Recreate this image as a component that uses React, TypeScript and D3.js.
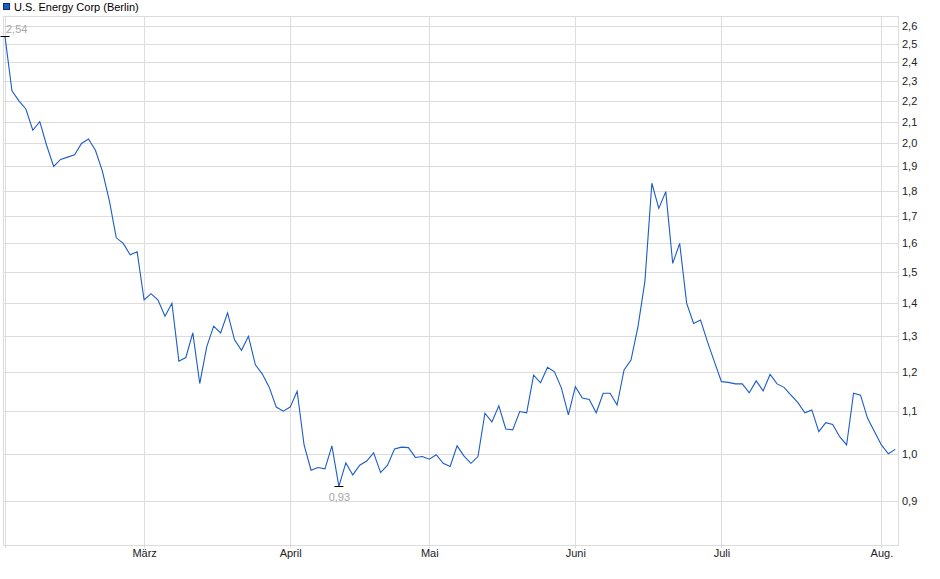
import { useRef, useEffect } from "react";
import * as d3 from "d3";

// closing prices, one per trading day
const prices = [
  2.54, 2.25, 2.2, 2.16, 2.06, 2.1, 1.99, 1.9, 1.93, 1.94, 1.95, 2.0, 2.02, 1.97, 1.88, 1.76, 1.62, 1.6, 1.56, 1.57,
  1.41, 1.43, 1.41, 1.36, 1.4, 1.23, 1.24, 1.31, 1.17, 1.27, 1.33, 1.31, 1.37, 1.29, 1.26, 1.3, 1.22, 1.195, 1.16, 1.11,
  1.1, 1.11, 1.15, 1.02, 0.964, 0.97, 0.967, 1.018, 0.93, 0.98, 0.954, 0.975, 0.984, 1.002, 0.959, 0.975, 1.011, 1.015, 1.014, 0.992,
  0.994, 0.988, 0.998, 0.979, 0.972, 1.018, 0.995, 0.979, 0.994, 1.095, 1.074, 1.113, 1.057, 1.055, 1.099, 1.096, 1.192, 1.172, 1.213, 1.201,
  1.158, 1.091, 1.162, 1.133, 1.129, 1.096, 1.145, 1.145, 1.115, 1.206, 1.233, 1.328, 1.47, 1.83, 1.73, 1.796, 1.53, 1.6, 1.4, 1.338,
  1.348, 1.284, 1.228, 1.175, 1.173, 1.169, 1.169, 1.146, 1.177, 1.151, 1.194, 1.169, 1.16, 1.14, 1.121, 1.096, 1.103, 1.051, 1.072, 1.068,
  1.039, 1.02, 1.145, 1.14, 1.083, 1.051, 1.02, 1.0, 1.01,
];

const monthLabels = ["März", "April", "Mai", "Juni", "Juli", "Aug."];
const monthIndex = [20, 41, 61, 82, 103, 126];
const yTicks = [0.9, 1.0, 1.1, 1.2, 1.3, 1.4, 1.5, 1.6, 1.7, 1.8, 1.9, 2.0, 2.1, 2.2, 2.3, 2.4, 2.5, 2.6];
const seriesName = "U.S. Energy Corp (Berlin)";

const W = 940;
const H = 579;
const FONT = "'Liberation Sans', Arial, sans-serif";
const GRID = "#dcdcdc";
const BLUE = "#1c5cc6";

const de = d3.formatLocale({ decimal: ",", thousands: ".", grouping: [3], currency: ["", " €"] });
const fmt1 = de.format(".1f");
const fmt2 = de.format(".2f");

export default function App() {
  const svgRef = useRef(null);

  useEffect(() => {
    const svg = d3.select(svgRef.current);
    svg.selectAll("*").remove();

    const left = 3, right = 898, top = 16, bottom = 545;

    const x = d3.scaleLinear().domain([0, prices.length - 1]).range([5, 895.3]);
    const y = d3.scaleLog().domain([0.9, 2.6]).range([501, 26]);

    svg.append("rect").attr("width", W).attr("height", H).attr("fill", "#fff");

    // horizontal grid
    svg
      .append("g")
      .selectAll("line")
      .data(yTicks)
      .join("line")
      .attr("x1", left)
      .attr("x2", right)
      .attr("y1", (d) => Math.round(y(d)) + 0.5)
      .attr("y2", (d) => Math.round(y(d)) + 0.5)
      .attr("stroke", GRID);

    // vertical grid (first trading day + month starts)
    svg
      .append("g")
      .selectAll("line")
      .data([0, ...monthIndex])
      .join("line")
      .attr("x1", (d) => Math.round(x(d)) + 0.5)
      .attr("x2", (d) => Math.round(x(d)) + 0.5)
      .attr("y1", top)
      .attr("y2", bottom + 3)
      .attr("stroke", GRID);

    // frame
    svg
      .append("rect")
      .attr("x", left + 0.5)
      .attr("y", top + 0.5)
      .attr("width", right - left)
      .attr("height", bottom - top)
      .attr("fill", "none")
      .attr("stroke", GRID);

    // right axis labels
    svg
      .append("g")
      .selectAll("text")
      .data(yTicks)
      .join("text")
      .attr("x", 902)
      .attr("y", (d) => y(d) + 4)
      .attr("font-family", FONT)
      .attr("font-size", 11)
      .attr("fill", "#222")
      .text((d) => fmt1(d));

    // month labels
    svg
      .append("g")
      .selectAll("text")
      .data(monthIndex)
      .join("text")
      .attr("x", (d) => x(d) + 0.5)
      .attr("y", 557)
      .attr("text-anchor", "middle")
      .attr("font-family", FONT)
      .attr("font-size", 11)
      .attr("fill", "#222")
      .text((_, i) => monthLabels[i]);

    // price line
    const line = d3
      .line<number>()
      .x((_, i) => x(i))
      .y((d) => y(d));

    svg
      .append("path")
      .datum(prices)
      .attr("d", line)
      .attr("fill", "none")
      .attr("stroke", BLUE)
      .attr("stroke-width", 1.1);

    // high / low markers
    const iMax = d3.maxIndex(prices);
    const iMin = d3.minIndex(prices);

    const marks = [
      { i: iMax, v: prices[iMax], dy: -4, anchor: "start", dx: 1 },
      { i: iMin, v: prices[iMin], dy: 14, anchor: "middle", dx: 0.5 },
    ];

    marks.forEach((m) => {
      const mx = x(m.i);
      const my = Math.round(y(m.v)) + 0.5;
      svg
        .append("line")
        .attr("x1", mx - 4.5)
        .attr("x2", mx + 4.5)
        .attr("y1", my)
        .attr("y2", my)
        .attr("stroke", "#000");
      svg
        .append("text")
        .attr("x", mx + m.dx)
        .attr("y", my + m.dy)
        .attr("text-anchor", m.anchor)
        .attr("font-family", FONT)
        .attr("font-size", 11)
        .attr("fill", "#a6a6a6")
        .text(fmt2(m.v));
    });

    // legend
    svg
      .append("rect")
      .attr("x", 3.5)
      .attr("y", 3.5)
      .attr("width", 6)
      .attr("height", 6)
      .attr("fill", BLUE)
      .attr("stroke", "#0d2f6e");
    svg
      .append("text")
      .attr("x", 14)
      .attr("y", 10.5)
      .attr("font-family", FONT)
      .attr("font-size", 11)
      .attr("fill", "#000")
      .text(seriesName);
  }, []);

  return (
    <div style={{ position: "absolute", left: 0, top: 0 }}>
      <svg ref={svgRef} width={W} height={H} style={{ display: "block" }} />
    </div>
  );
}
